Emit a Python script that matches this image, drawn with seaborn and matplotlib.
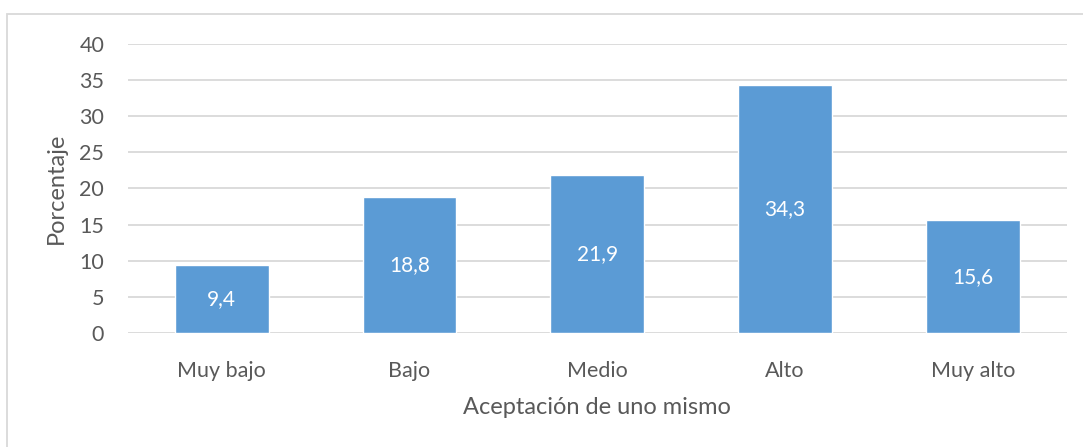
import matplotlib
matplotlib.use('Agg')
import matplotlib.pyplot as plt
import matplotlib.patches as mpatches
import pandas as pd
import seaborn as sns

# Data
categories = ['Muy bajo', 'Bajo', 'Medio', 'Alto', 'Muy alto']
values = [9.4, 18.8, 21.9, 34.3, 15.6]
labels = ['9,4', '18,8', '21,9', '34,3', '15,6']
yticks = [0, 5, 10, 15, 20, 25, 30, 35, 40]

df = pd.DataFrame({'cat': categories, 'val': values})

sns.set_style('white')
plt.rcParams['font.family'] = ['Lato', 'DejaVu Sans']
text_color = '#595959'
grid_color = '#D9D9D9'

fig = plt.figure(figsize=(10.83, 4.47), dpi=100)
ax = fig.add_axes([0.118, 0.255, 0.867, 0.647])

sns.barplot(data=df, x='cat', y='val', color='#5B9BD5', saturation=1,
            width=0.5, ax=ax, zorder=3)

# value labels in the middle of each bar
for i, (v, lab) in enumerate(zip(values, labels)):
    ax.text(i, v / 2, lab, ha='center', va='center', color='white', fontsize=15, zorder=4)

ax.set_ylim(0, 40)
ax.set_xlim(-0.5, len(categories) - 0.5)
ax.set_yticks(yticks)
ax.yaxis.grid(True, color=grid_color, linewidth=1.3, zorder=0)
ax.set_axisbelow(True)
for s in ax.spines.values():
    s.set_visible(False)
ax.tick_params(axis='both', length=0, labelsize=15.5, colors=text_color)
ax.tick_params(axis='y', pad=17)
ax.tick_params(axis='x', pad=20)
ax.set_xlabel('Aceptación de uno mismo', fontsize=17, color=text_color, labelpad=12)
ax.set_ylabel('Porcentaje', fontsize=17, color=text_color, labelpad=9)

# outer chart frame
frame = mpatches.Rectangle((7 / 1083, -0.05), 1.1, (447 - 14) / 447 + 0.05,
                           transform=fig.transFigure, fill=False,
                           edgecolor=grid_color, linewidth=1.3)
fig.patches.append(frame)

fig.savefig('out.png', dpi=100)
